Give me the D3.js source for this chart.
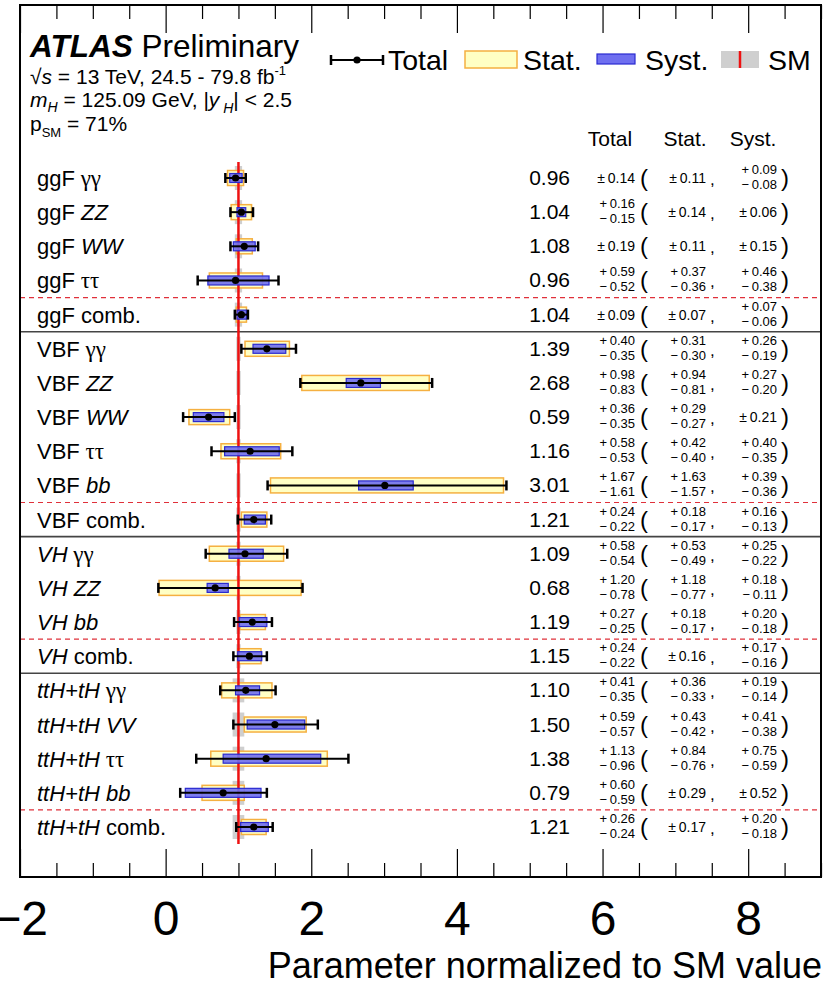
<!DOCTYPE html>
<html>
<head>
<meta charset="utf-8">
<script src="https://cdn.jsdelivr.net/npm/d3@7"></script>
<style>
body { margin: 0; background: #fff; }
text { font-family: "Liberation Sans", Arial, sans-serif; fill: #000; }
</style>
</head>
<body>
<svg id="chart" width="827" height="989"></svg>
<script>
// measured signal strengths, one entry per row (top to bottom)
var prod = ["ggF", "ggF", "ggF", "ggF", "ggF",
	"VBF", "VBF", "VBF", "VBF", "VBF", "VBF",
	"VH", "VH", "VH", "VH",
	"ttH+tH", "ttH+tH", "ttH+tH", "ttH+tH", "ttH+tH"]
var decay = ["γγ", "ZZ", "WW", "ττ", "comb.",
	"γγ", "ZZ", "WW", "ττ", "bb", "comb.",
	"γγ", "ZZ", "bb", "comb.",
	"γγ", "VV", "ττ", "bb", "comb."]
var mu = [0.96, 1.04, 1.08, 0.96, 1.04, 1.39, 2.68, 0.59, 1.16, 3.01, 1.21, 1.09, 0.68, 1.19, 1.15, 1.10, 1.50, 1.38, 0.79, 1.21]
var totUp = [0.14, 0.16, 0.19, 0.59, 0.09, 0.40, 0.98, 0.36, 0.58, 1.67, 0.24, 0.58, 1.20, 0.27, 0.24, 0.41, 0.59, 1.13, 0.60, 0.26]
var totDn = [0.14, 0.15, 0.19, 0.52, 0.09, 0.35, 0.83, 0.35, 0.53, 1.61, 0.22, 0.54, 0.78, 0.25, 0.22, 0.35, 0.57, 0.96, 0.59, 0.24]
var statUp = [0.11, 0.14, 0.11, 0.37, 0.07, 0.31, 0.94, 0.29, 0.42, 1.63, 0.18, 0.53, 1.18, 0.18, 0.16, 0.36, 0.43, 0.84, 0.29, 0.17]
var statDn = [0.11, 0.14, 0.11, 0.36, 0.07, 0.30, 0.81, 0.27, 0.40, 1.57, 0.17, 0.49, 0.77, 0.17, 0.16, 0.33, 0.42, 0.76, 0.29, 0.17]
var systUp = [0.09, 0.06, 0.15, 0.46, 0.07, 0.26, 0.27, 0.21, 0.40, 0.39, 0.16, 0.25, 0.18, 0.20, 0.17, 0.19, 0.41, 0.75, 0.52, 0.20]
var systDn = [0.08, 0.06, 0.15, 0.38, 0.06, 0.19, 0.20, 0.21, 0.35, 0.36, 0.13, 0.22, 0.11, 0.18, 0.16, 0.14, 0.38, 0.59, 0.52, 0.18]
// SM theory band half-width (estimated)
var smUnc = [0.05, 0.05, 0.05, 0.05, 0.05, 0.03, 0.03, 0.03, 0.03, 0.03, 0.03, 0.03, 0.03, 0.03, 0.03, 0.08, 0.08, 0.08, 0.08, 0.08]

var xTicks = [-2, 0, 2, 4, 6, 8]
var dashedAfter = [3, 9, 13, 18]
var solidAfter = [4, 10, 14]

var svg = d3.select("#chart")
var frameTop = 5, frameBottom = 877

var x = d3.scaleLinear().domain([-2, 9]).range([20, 821])
var y = d3.scalePoint().domain(d3.range(mu.length)).range([178, 827])
var step = y.step()

var rows = mu.map(function (m, i) { return i })

// separators
svg.selectAll(".dash").data(dashedAfter).enter().append("line")
	.attr("x1", x(-2)).attr("x2", x(9))
	.attr("y1", function (d) { return y(d) + step / 2 })
	.attr("y2", function (d) { return y(d) + step / 2 })
	.attr("stroke", "#e0303a").attr("stroke-width", 1.2).attr("stroke-dasharray", "5,4")

svg.selectAll(".solid").data(solidAfter).enter().append("line")
	.attr("x1", x(-2)).attr("x2", x(9))
	.attr("y1", function (d) { return y(d) + step / 2 })
	.attr("y2", function (d) { return y(d) + step / 2 })
	.attr("stroke", "#444").attr("stroke-width", 1.6)

// SM band
svg.selectAll(".smband").data(rows).enter().append("rect")
	.attr("x", function (i) { return x(1 - smUnc[i]) })
	.attr("width", function (i) { return x(1 + smUnc[i]) - x(1 - smUnc[i]) })
	.attr("y", function (i) { return y(i) - 12 })
	.attr("height", 24)
	.attr("fill", "#cfcfcf")

// stat boxes
svg.selectAll(".stat").data(rows).enter().append("rect")
	.attr("x", function (i) { return x(mu[i] - statDn[i]) })
	.attr("width", function (i) { return x(mu[i] + statUp[i]) - x(mu[i] - statDn[i]) })
	.attr("y", function (i) { return y(i) - 7.5 })
	.attr("height", 15)
	.attr("fill", "#ffffc4").attr("stroke", "#f5b041").attr("stroke-width", 1.5)

// SM line
svg.append("line")
	.attr("x1", x(1)).attr("x2", x(1))
	.attr("y1", y(0) - 16).attr("y2", y(mu.length - 1) + 17)
	.attr("stroke", "#ee1111").attr("stroke-width", 2.5)

// syst boxes
svg.selectAll(".syst").data(rows).enter().append("rect")
	.attr("x", function (i) { return x(mu[i] - systDn[i]) })
	.attr("width", function (i) { return x(mu[i] + systUp[i]) - x(mu[i] - systDn[i]) })
	.attr("y", function (i) { return y(i) - 4.5 })
	.attr("height", 9)
	.attr("fill", "#6f6ff0").attr("fill-opacity", 0.9)
	.attr("stroke", "#2a2ad0").attr("stroke-width", 1.2)

// total error bars
var eb = svg.selectAll(".tot").data(rows).enter().append("g")
eb.append("line")
	.attr("x1", function (i) { return x(mu[i] - totDn[i]) })
	.attr("x2", function (i) { return x(mu[i] + totUp[i]) })
	.attr("y1", function (i) { return y(i) }).attr("y2", function (i) { return y(i) })
	.attr("stroke", "#000").attr("stroke-width", 2)
eb.append("line")
	.attr("x1", function (i) { return x(mu[i] - totDn[i]) })
	.attr("x2", function (i) { return x(mu[i] - totDn[i]) })
	.attr("y1", function (i) { return y(i) - 5 }).attr("y2", function (i) { return y(i) + 5 })
	.attr("stroke", "#000").attr("stroke-width", 2.5)
eb.append("line")
	.attr("x1", function (i) { return x(mu[i] + totUp[i]) })
	.attr("x2", function (i) { return x(mu[i] + totUp[i]) })
	.attr("y1", function (i) { return y(i) - 5 }).attr("y2", function (i) { return y(i) + 5 })
	.attr("stroke", "#000").attr("stroke-width", 2.5)
eb.append("circle")
	.attr("cx", function (i) { return x(mu[i]) })
	.attr("cy", function (i) { return y(i) })
	.attr("r", 3.6).attr("fill", "#000")

// row labels
function isItalicProd(p) { return p == "VH" || p == "ttH+tH" }
var lab = svg.selectAll(".lab").data(rows).enter().append("text")
	.attr("x", 37).attr("y", function (i) { return y(i) + 8 })
	.attr("font-size", 22)
lab.append("tspan")
	.attr("font-style", function (i) { return isItalicProd(prod[i]) ? "italic" : null })
	.text(function (i) { return prod[i] })
lab.append("tspan")
	.attr("font-style", function (i) { return (decay[i] == "comb." || decay[i] == "γγ" || decay[i] == "ττ") ? null : "italic" })
	.attr("font-family", function (i) { return (decay[i] == "γγ" || decay[i] == "ττ") ? "Liberation Serif, serif" : null })
	.attr("font-size", function (i) { return (decay[i] == "γγ" || decay[i] == "ττ") ? 23 : null })
	.text(function (i) { return " " + decay[i] })

// numbers
var fmt = d3.format(".2f")
svg.selectAll(".val").data(rows).enter().append("text")
	.attr("x", 570).attr("y", function (i) { return y(i) + 7 })
	.attr("text-anchor", "end").attr("font-size", 21)
	.text(function (i) { return fmt(mu[i]) })

function drawUnc(xr, up, dn) {
	rows.forEach(function (i) {
		if (up[i] == dn[i]) {
			svg.append("text").attr("x", xr).attr("y", y(i) + 5)
				.attr("text-anchor", "end").attr("font-size", 14)
				.text("±\u2009" + fmt(up[i]))
		} else {
			svg.append("text").attr("x", xr).attr("y", y(i) - 4)
				.attr("text-anchor", "end").attr("font-size", 13)
				.text("+\u2009" + fmt(up[i]))
			svg.append("text").attr("x", xr).attr("y", y(i) + 11)
				.attr("text-anchor", "end").attr("font-size", 13)
				.text("−\u2009" + fmt(dn[i]))
		}
	})
}
drawUnc(635, totUp, totDn)
drawUnc(706, statUp, statDn)
drawUnc(777, systUp, systDn)

svg.selectAll(".po").data(rows).enter().append("text")
	.attr("x", 640).attr("y", function (i) { return y(i) + 8 })
	.attr("font-size", 24).text("(")
svg.selectAll(".cm").data(rows).enter().append("text")
	.attr("x", 710).attr("y", function (i) { return y(i) + 7 })
	.attr("font-size", 17).text(",")
svg.selectAll(".pc").data(rows).enter().append("text")
	.attr("x", 781).attr("y", function (i) { return y(i) + 8 })
	.attr("font-size", 24).text(")")

// column header
var heads = [["Total", 610], ["Stat.", 685], ["Syst.", 753]]
svg.selectAll(".hd").data(heads).enter().append("text")
	.attr("x", function (d) { return d[1] }).attr("y", 146)
	.attr("text-anchor", "middle").attr("font-size", 21)
	.text(function (d) { return d[0] })

// axes
var gx = svg.append("g").attr("transform", "translate(0," + frameBottom + ")")
	.call(d3.axisBottom(x).tickValues(xTicks).tickSize(-28).tickPadding(24).tickFormat(d3.format("d")))
var minors = d3.range(-2, 9.01, 0.5).filter(function (v) { return xTicks.indexOf(v) < 0 })
var gxm = svg.append("g").attr("transform", "translate(0," + frameBottom + ")")
	.call(d3.axisBottom(x).tickValues(minors).tickSize(-14).tickFormat(""))
var gt = svg.append("g").attr("transform", "translate(0," + frameTop + ")")
	.call(d3.axisTop(x).tickValues(xTicks).tickSize(-28).tickFormat(""))
var gtm = svg.append("g").attr("transform", "translate(0," + frameTop + ")")
	.call(d3.axisTop(x).tickValues(minors).tickSize(-14).tickFormat(""))
;[gx, gxm, gt, gtm].forEach(function (g) {
	g.select(".domain").remove()
	g.selectAll(".tick line").attr("stroke", "#000").attr("stroke-width", 1.2)
})
gx.selectAll("text").attr("font-size", 48).attr("font-family", "Liberation Sans, Arial, sans-serif").attr("fill", "#000")

svg.append("text").attr("x", 822).attr("y", 978)
	.attr("text-anchor", "end").attr("font-size", 36)
	.text("Parameter normalized to SM value")

// frame
svg.append("rect")
	.attr("x", x(-2)).attr("y", frameTop)
	.attr("width", x(9) - x(-2)).attr("height", frameBottom - frameTop)
	.attr("fill", "none").attr("stroke", "#000").attr("stroke-width", 2)

// ATLAS label
var t1 = svg.append("text").attr("x", 30).attr("y", 57).attr("font-size", 31.5)
t1.append("tspan").attr("font-weight", "bold").attr("font-style", "italic").text("ATLAS")
t1.append("tspan").text(" Preliminary")

var t2 = svg.append("text").attr("x", 30).attr("y", 84).attr("font-size", 21)
t2.append("tspan").text("√")
t2.append("tspan").attr("font-style", "italic").text("s")
t2.append("tspan").text(" = 13 TeV, 24.5 - 79.8 fb")
t2.append("tspan").attr("font-size", 13).attr("dy", -9).text("-1")

var t3 = svg.append("text").attr("x", 30).attr("y", 107).attr("font-size", 21)
t3.append("tspan").attr("font-style", "italic").text("m")
t3.append("tspan").attr("font-style", "italic").attr("font-size", 14).attr("dy", 5).text("H")
t3.append("tspan").attr("dy", -5).text(" = 125.09 GeV, |")
t3.append("tspan").attr("font-style", "italic").text("y")
t3.append("tspan").attr("font-style", "italic").attr("font-size", 14).attr("dy", 6).text(" H")
t3.append("tspan").attr("dy", -6).text("| < 2.5")

var t4 = svg.append("text").attr("x", 30).attr("y", 131).attr("font-size", 21)
t4.append("tspan").text("p")
t4.append("tspan").attr("font-size", 13).attr("dy", 6).text("SM")
t4.append("tspan").attr("dy", -6).text(" = 71%")

// legend
var ly = 60
svg.append("line").attr("x1", 331).attr("x2", 383).attr("y1", ly).attr("y2", ly).attr("stroke", "#000").attr("stroke-width", 2)
svg.append("line").attr("x1", 331).attr("x2", 331).attr("y1", ly - 5).attr("y2", ly + 5).attr("stroke", "#000").attr("stroke-width", 2.5)
svg.append("line").attr("x1", 383).attr("x2", 383).attr("y1", ly - 5).attr("y2", ly + 5).attr("stroke", "#000").attr("stroke-width", 2.5)
svg.append("circle").attr("cx", 357).attr("cy", ly).attr("r", 3.6).attr("fill", "#000")
svg.append("rect").attr("x", 465).attr("y", 51).attr("width", 52).attr("height", 17)
	.attr("fill", "#ffffc4").attr("stroke", "#f5b041").attr("stroke-width", 1.5)
svg.append("rect").attr("x", 597).attr("y", 54).attr("width", 38).attr("height", 10)
	.attr("fill", "#6f6ff0").attr("stroke", "#2a2ad0").attr("stroke-width", 1.2)
svg.append("rect").attr("x", 721).attr("y", 51).attr("width", 38).attr("height", 17).attr("fill", "#cfcfcf")
svg.append("line").attr("x1", 740).attr("x2", 740).attr("y1", 51).attr("y2", 68).attr("stroke", "#ee1111").attr("stroke-width", 2.5)
var legText = [["Total", 388], ["Stat.", 523], ["Syst.", 645], ["SM", 768]]
svg.selectAll(".lg").data(legText).enter().append("text")
	.attr("x", function (d) { return d[1] }).attr("y", 70)
	.attr("font-size", 28.5)
	.text(function (d) { return d[0] })
</script>
</body>
</html>
